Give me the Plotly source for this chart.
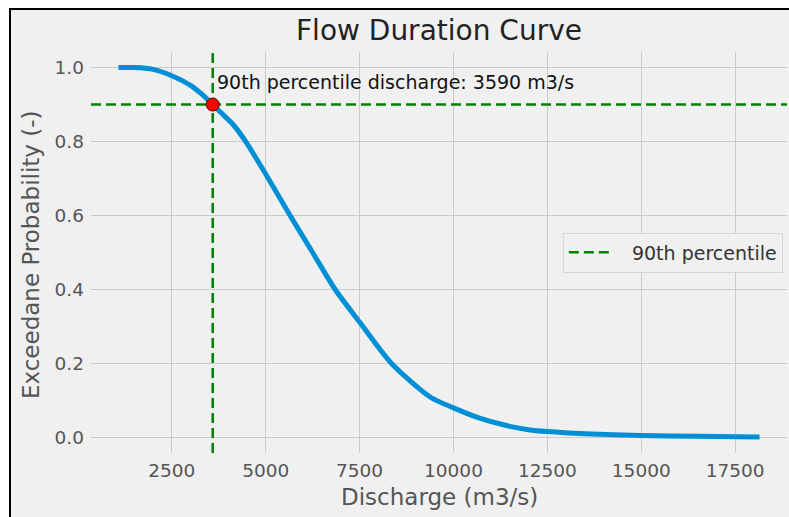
import plotly.graph_objects as go

# Flow duration curve
discharge = [1080, 1500, 2000, 2500, 3000, 3300, 3590, 3800, 4150, 4500, 5000,
             5650, 6250, 6850, 7500, 8350, 9400, 10000, 10700, 11500, 12000,
             12500, 13500, 15000, 16500, 18150]
exceedance = [1.0, 1.0, 0.995, 0.978, 0.952, 0.928, 0.90, 0.879, 0.844, 0.795, 0.712,
              0.60, 0.50, 0.40, 0.312, 0.20, 0.108, 0.08, 0.052, 0.03, 0.021,
              0.016, 0.010, 0.0055, 0.003, 0.001]

p90_discharge = 3590
p90_prob = 0.9

x_ticks = [2500, 5000, 7500, 10000, 12500, 15000, 17500]
y_ticks = [0.0, 0.2, 0.4, 0.6, 0.8, 1.0]

FONT = "DejaVu Sans"
BG = "#f0f0f0"
GREEN = "#008000"
XR = [349, 18880]
YR = [-0.042, 1.042]

fig = go.Figure()

fig.add_trace(go.Scatter(
    x=discharge, y=exceedance, mode="lines",
    line=dict(color="#008fd5", width=5, shape="spline", smoothing=0.7),
    showlegend=False, hoverinfo="skip"))

# vertical 90th percentile line (legend entry)
fig.add_trace(go.Scatter(
    x=[p90_discharge, p90_discharge], y=YR, mode="lines",
    line=dict(color=GREEN, width=2.5, dash="10px,5px"),
    name="\u00a0\u00a0\u00a090th percentile", showlegend=True))

# horizontal line at 0.9
fig.add_trace(go.Scatter(
    x=XR, y=[p90_prob, p90_prob], mode="lines",
    line=dict(color=GREEN, width=2.5, dash="10px,5px"),
    showlegend=False))

fig.add_trace(go.Scatter(
    x=[p90_discharge], y=[p90_prob], mode="markers",
    marker=dict(color="#ff0000", size=13, line=dict(color="#5a0000", width=1)),
    showlegend=False))

shapes = [dict(type="rect", xref="paper", yref="paper",
               x0=-0.1164, x1=1.05, y0=-0.3, y1=1.1072,
               line=dict(color="black", width=2), fillcolor=BG, layer="below")]

annotations = [
    dict(text="Flow Duration Curve", xref="paper", yref="paper", x=0.5, y=1.0524,
         xanchor="center", yanchor="middle", showarrow=False,
         font=dict(family=FONT, size=28, color="#222222")),
    dict(text="Discharge (m3/s)", xref="paper", yref="paper", x=0.5, y=-0.1097,
         xanchor="center", yanchor="middle", showarrow=False,
         font=dict(family=FONT, size=23, color="#555555")),
    dict(text="Exceedane Probability (-)", xref="paper", yref="paper", x=-0.0863, y=0.496,
         xanchor="center", yanchor="middle", textangle=-90, showarrow=False,
         font=dict(family=FONT, size=23, color="#555555")),
    dict(text=f"90th percentile discharge: {p90_discharge} m3/s", xref="x", yref="y",
         x=p90_discharge + 70, y=0.962, xanchor="left", yanchor="middle", showarrow=False,
         font=dict(family=FONT, size=19, color="#111111")),
]

fig.update_layout(
    width=789, height=517,
    margin=dict(l=91, r=2, t=52, b=64, autoexpand=False),
    paper_bgcolor="white", plot_bgcolor=BG,
    font=dict(family=FONT, size=19, color="#555555"),
    shapes=shapes, annotations=annotations,
    legend=dict(x=0.994, xanchor="right", y=0.5, yanchor="middle",
                bgcolor=BG, bordercolor="#d6d6d6", borderwidth=1, itemwidth=40,
                font=dict(family=FONT, size=19, color="#333333")),
    xaxis=dict(range=XR, tickvals=x_ticks, ticktext=[str(v) for v in x_ticks],
               showgrid=True, gridcolor="#cbcbcb", gridwidth=1.3, zeroline=False,
               showline=False, ticks="", ticklabelstandoff=4,
               tickfont=dict(family=FONT, size=18.5, color="#555555")),
    yaxis=dict(range=YR, tickvals=y_ticks, ticktext=[f"{v:.1f}" for v in y_ticks],
               showgrid=True, gridcolor="#cbcbcb", gridwidth=1.3, zeroline=False,
               showline=False, ticks="", ticklabelstandoff=6,
               tickfont=dict(family=FONT, size=18.5, color="#555555")),
)

fig.write_html("out.html")
